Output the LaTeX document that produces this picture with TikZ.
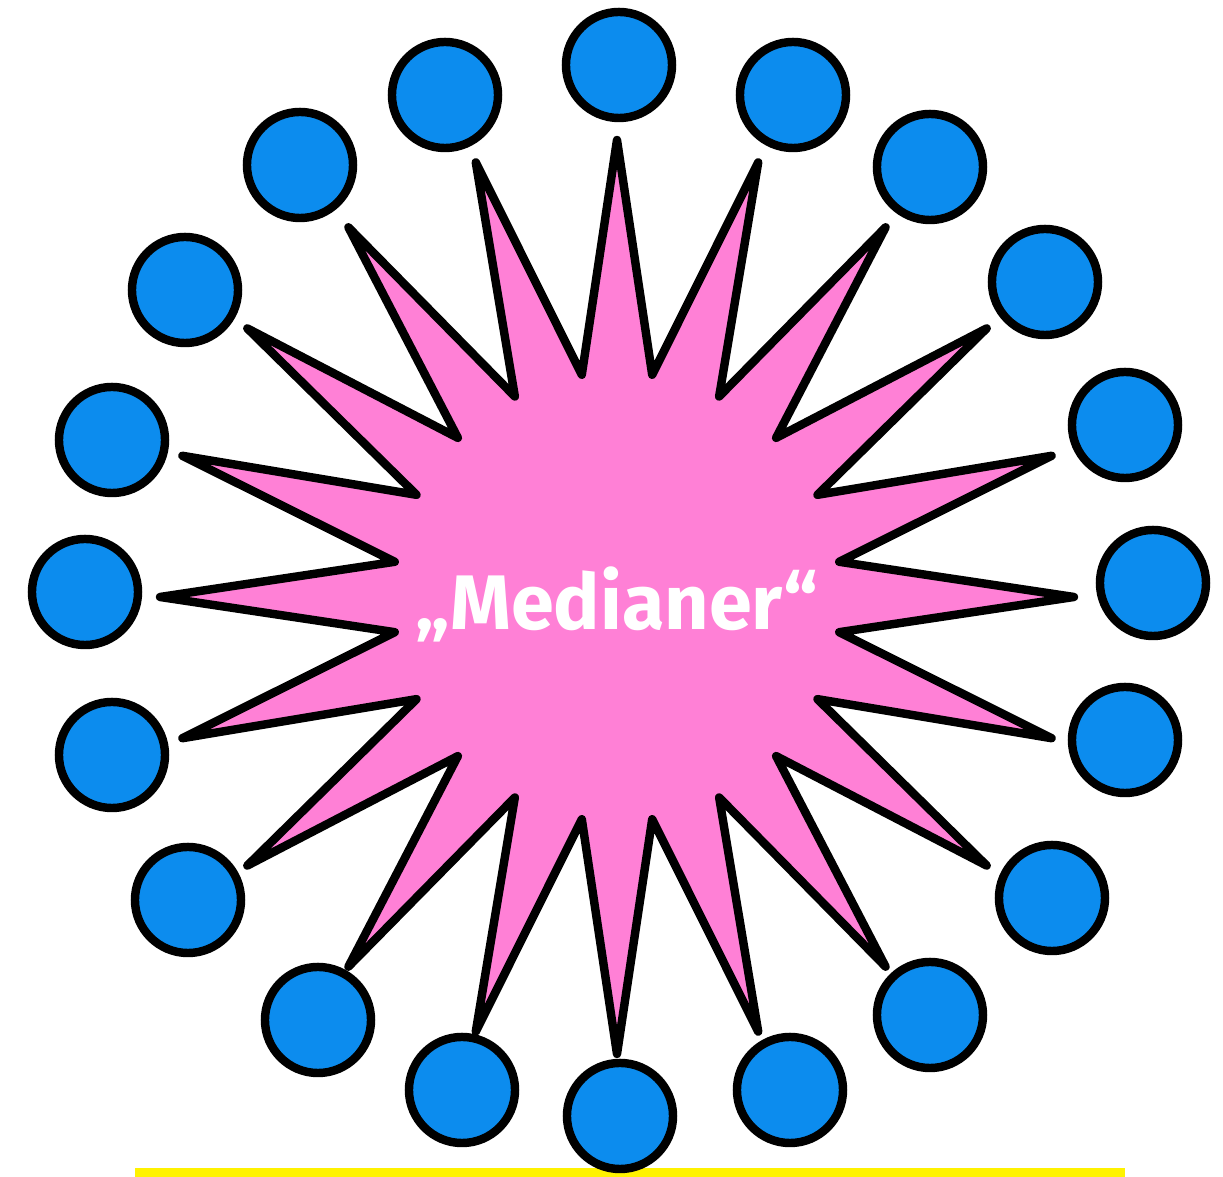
\documentclass[tikz,border=0pt]{standalone}
\usepackage{fontspec}
\setmainfont{Fira Sans}
\definecolor{starpink}{RGB}{255,128,214}
\definecolor{dotblue}{RGB}{12,140,238}
\definecolor{lineyellow}{RGB}{255,242,0}
\begin{document}
\begin{tikzpicture}[x=0.01cm,y=-0.01cm,
  dot/.style={circle,draw=black,fill=dotblue,line width=2.4pt,minimum size=1.06cm,inner sep=0pt},
  spikes/.style={draw=black,fill=starpink,line width=2.4pt,line join=round},
  titletext/.style={text=white,font=\bfseries\fontsize{22}{26}\selectfont,anchor=base,inner sep=0pt}]
\useasboundingbox (0,0) rectangle (1223,1177);
\fill[white] (0,0) rectangle (1223,1177);
\fill[lineyellow] (135,1168) rectangle (1125,1177);
\begin{scope}[shift={(617,597)}]
  \draw[spikes] (90:457) \foreach \i in {0,...,19}{ -- ({99+\i*18}:225) -- ({108+\i*18}:457) } -- cycle;
\end{scope}
\node[titletext] (title) at (617,630) {„Medianer“};
\foreach \n/\x/\y in {1/619/65, 2/793/95, 3/930/167, 4/1045/282, 5/1125/425,
  6/1153/583, 7/1125/740, 8/1052/898, 9/930/1015, 10/790/1090,
  11/620/1116, 12/462/1090, 13/318/1020, 14/188/900, 15/112/755,
  16/85/592, 17/112/440, 18/185/290, 19/300/165, 20/445/95}
  \node[dot] (c\n) at (\x,\y) {};
\end{tikzpicture}
\end{document}
